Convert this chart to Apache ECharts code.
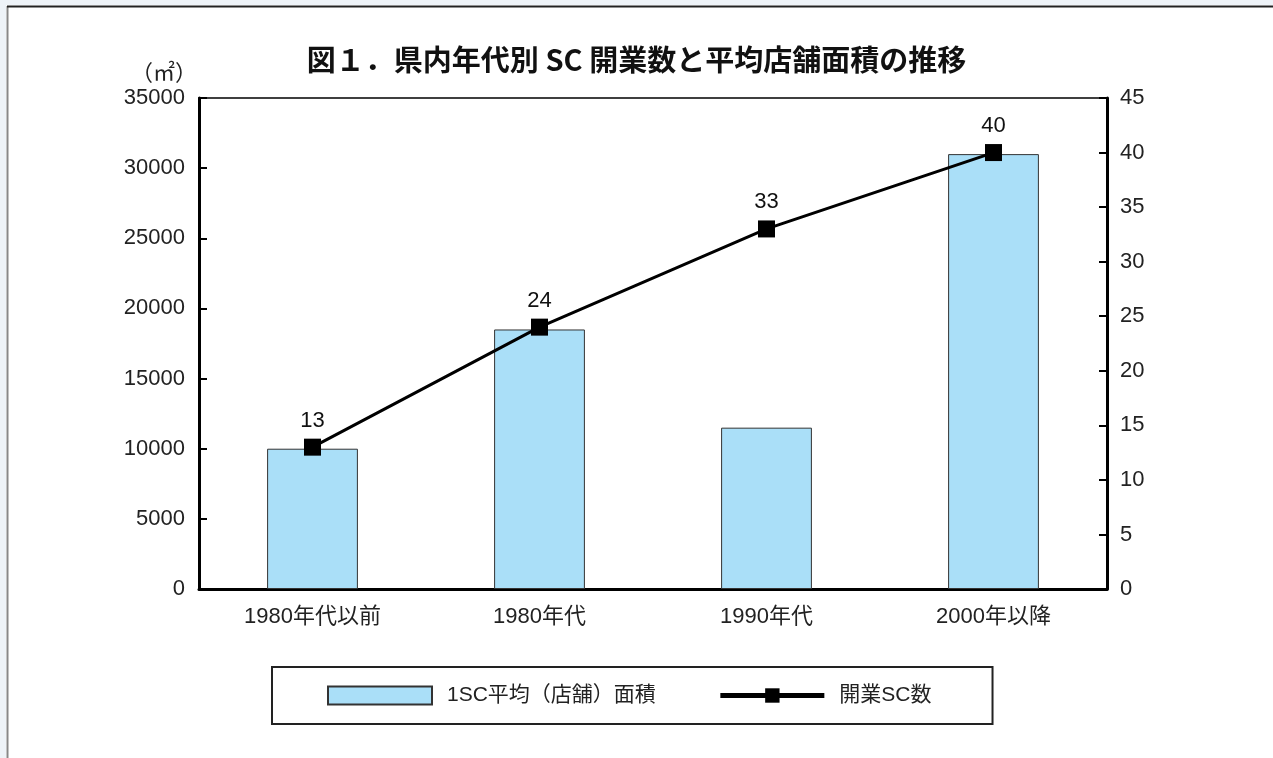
<!DOCTYPE html>
<html>
<head>
<meta charset="utf-8">
<title>図1. 県内年代別SC開業数と平均店舗面積の推移</title>
<script src="https://cdn.jsdelivr.net/npm/echarts@6/dist/echarts.min.js"></script>
<style>
  html, body { margin: 0; padding: 0; background: #fff; }
  #chart { width: 1273px; height: 758px; }
</style>
</head>
<body>
<div id="chart"></div>
<script>
// 年代区分
const categories = ['1980年代以前', '1980年代', '1990年代', '2000年以降'];
// 1SC平均（店舗）面積（㎡）
const avgArea = [10000, 18500, 11500, 31000];
// 開業SC数
const openCount = [13, 24, 33, 40];

const FONT = '"Liberation Sans", "Noto Sans CJK JP", sans-serif';

const chart = echarts.init(document.getElementById('chart'));

const option = {
    backgroundColor: '#fff',
    textStyle: { fontFamily: FONT, color: '#222' },
    title: {
        text: '図１．県内年代別 SC 開業数と平均店舗面積の推移',
        left: 'center',
        top: 40,
        textStyle: {
            fontFamily: '"Noto Sans CJK JP", sans-serif',
            fontWeight: 'bold',
            fontSize: 29,
            color: '#111'
        }
    },
    // 外枠
    graphic: [
        { type: 'rect', shape: { x: 0, y: 0, width: 1273, height: 5 }, style: { fill: '#eef3f8' }, silent: true },
        { type: 'rect', shape: { x: 0, y: 0, width: 6, height: 758 }, style: { fill: '#eef3f8' }, silent: true },
        { type: 'line', shape: { x1: 7.5, y1: 6, x2: 7.5, y2: 758 }, style: { stroke: '#888', lineWidth: 2 }, silent: true },
        { type: 'line', shape: { x1: 7, y1: 6.5, x2: 1273, y2: 6.5 }, style: { stroke: '#222', lineWidth: 2 }, silent: true }
    ],
    grid: {
        left: 199,
        right: 166,
        top: 98,
        bottom: 169,
        show: true,
        borderColor: '#000',
        borderWidth: 1.5
    },
    legend: {
        left: 272,
        top: 667,
        padding: [18, 61, 18, 55],
        itemWidth: 104,
        itemHeight: 18,
        itemGap: 62,
        borderColor: '#222',
        borderWidth: 2,
        lineStyle: { width: 5 },
        textStyle: { fontSize: 21, color: '#222', padding: [0, 0, 0, 10] },
        data: [
            { name: '1SC平均（店舗）面積', icon: 'rect' },
            { name: '開業SC数' }
        ]
    },
    xAxis: {
        type: 'category',
        data: categories,
        axisLine: { lineStyle: { color: '#000', width: 3 } },
        axisTick: { inside: true, length: 11, lineStyle: { color: '#000', width: 2 } },
        axisLabel: { fontSize: 22, color: '#222', margin: 17 }
    },
    yAxis: [
        {
            type: 'value',
            name: '（㎡）',
            nameLocation: 'end',
            nameGap: 13,
            nameTextStyle: { fontSize: 22, color: '#222', align: 'right', padding: [0, 2, 0, 0] },
            min: 0,
            max: 35000,
            interval: 5000,
            axisLine: { show: true, lineStyle: { color: '#000', width: 3 } },
            axisTick: { show: true, inside: true, length: 8, lineStyle: { color: '#000', width: 2 } },
            axisLabel: {
                fontSize: 22, color: '#222', margin: 14,
                formatter: function (v) { return String(v); }
            },
            splitLine: { show: false }
        },
        {
            type: 'value',
            position: 'right',
            min: 0,
            max: 45,
            interval: 5,
            axisLine: { show: true, lineStyle: { color: '#000', width: 3 } },
            axisTick: { show: true, inside: true, length: 8, lineStyle: { color: '#000', width: 2 } },
            axisLabel: { fontSize: 22, color: '#222', margin: 13 },
            splitLine: { show: false }
        }
    ],
    series: [
        {
            name: '1SC平均（店舗）面積',
            type: 'bar',
            yAxisIndex: 0,
            data: avgArea,
            barWidth: '40%',
            itemStyle: { color: '#aadff8', borderColor: '#333', borderWidth: 1 }
        },
        {
            name: '開業SC数',
            type: 'line',
            yAxisIndex: 1,
            data: openCount,
            symbol: 'rect',
            symbolSize: 17,
            itemStyle: { color: '#000' },
            lineStyle: { color: '#000', width: 3 },
            label: { show: true, position: 'top', distance: 7, fontSize: 22, color: '#111' },
            z: 5
        }
    ]
};

chart.setOption(option);

window.addEventListener('resize', function () {
    chart.resize();
});
</script>
</body>
</html>
